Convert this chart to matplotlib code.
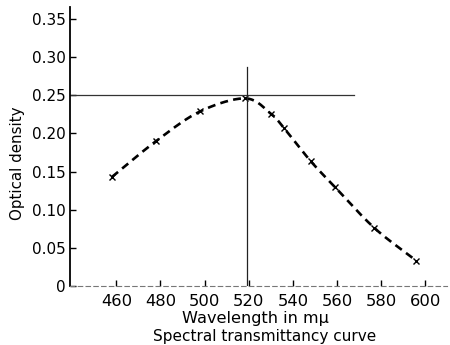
import numpy as np
import matplotlib
matplotlib.use("Agg")
import matplotlib.pyplot as plt

# Data
wavelength = [458, 478, 498, 518.5, 530, 536, 548, 559, 577, 596]
density = [0.143, 0.190, 0.229, 0.246, 0.226, 0.207, 0.164, 0.130, 0.076, 0.033]
x_ticks = [460, 480, 500, 520, 540, 560, 580, 600]
y_ticks = [0, 0.05, 0.10, 0.15, 0.20, 0.25, 0.30, 0.35]
y_tick_labels = ["0", "0.05", "0.10", "0.15", "0.20", "0.25", "0.30", "0.35"]
peak_wavelength = 519
peak_density = 0.25
hline_end = 567.5
vline_top = 0.287

plt.rcParams['font.family'] = ['DejaVu Sans']

fig = plt.figure(figsize=(4.5, 3.45), dpi=100)
ax = fig.add_axes([0.1556, 0.171, 0.993 - 0.1556, 0.98 - 0.171])

xmin, xmax = 439, 609.8

# smooth rendering of the curve through the read points (Catmull-Rom)
x = np.array(wavelength, dtype=float)
y = np.array(density, dtype=float)
px = np.concatenate([[2 * x[0] - x[1]], x, [2 * x[-1] - x[-2]]])
py = np.concatenate([[2 * y[0] - y[1]], y, [2 * y[-1] - y[-2]]])
sx, sy = [], []
t = np.linspace(0, 1, 20)
for i in range(1, len(px) - 2):
    p0, p1, p2, p3 = px[i - 1], px[i], px[i + 1], px[i + 2]
    q0, q1, q2, q3 = py[i - 1], py[i], py[i + 1], py[i + 2]
    bx = 0.5 * ((2 * p1) + (-p0 + p2) * t + (2 * p0 - 5 * p1 + 4 * p2 - p3) * t**2 + (-p0 + 3 * p1 - 3 * p2 + p3) * t**3)
    by = 0.5 * ((2 * q1) + (-q0 + q2) * t + (2 * q0 - 5 * q1 + 4 * q2 - q3) * t**2 + (-q0 + 3 * q1 - 3 * q2 + q3) * t**3)
    sx.extend(bx)
    sy.extend(by)

ax.plot(sx, sy, color='black', lw=1.9, linestyle=(0, (3, 2)))
ax.plot(x, y, linestyle='none', marker='x', color='black', markersize=5, markeredgewidth=1.0)

# crosshair at the peak
ax.plot([xmin, hline_end], [peak_density, peak_density], color='#333333', lw=0.9)
ax.plot([peak_wavelength, peak_wavelength], [0, vline_top], color='#222222', lw=0.9)

ax.set_xlim(xmin, xmax)
ax.set_ylim(0, 0.366)
ax.set_xticks(x_ticks)
ax.set_yticks(y_ticks)
ax.set_yticklabels(y_tick_labels)

for s in ['top', 'right']:
    ax.spines[s].set_visible(False)
ax.spines['left'].set_linewidth(1.3)
ax.spines['bottom'].set_linewidth(0.8)
ax.spines['bottom'].set_color('#777777')
ax.spines['bottom'].set_linestyle((0, (4, 3)))

ax.tick_params(axis='both', direction='in', length=4, width=1, colors='black')
ax.tick_params(axis='x', pad=6, labelsize=11.8)
ax.tick_params(axis='y', pad=3, labelsize=11)

fig.text(0.04, 0.527, "Optical density", rotation=90, ha='center', va='center', fontsize=10.8)
fig.text(0.568, 0.078, "Wavelength in mμ", ha='center', va='center', fontsize=11.6)
fig.text(0.589, 0.024, "Spectral transmittancy curve", ha='center', va='center', fontsize=11)

fig.savefig("out.png", dpi=100)
